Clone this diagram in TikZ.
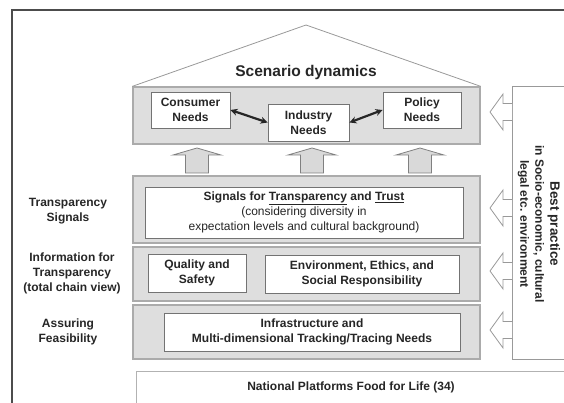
\documentclass[tikz,border=0pt]{standalone}
\usepackage{fontspec}
\setmainfont{Liberation Sans}
\usetikzlibrary{arrows.meta}
\begin{document}
\begin{tikzpicture}[x=1pt,y=-1pt,
                every node/.style={font=\fontsize{12}{15}\selectfont\bfseries,
                text=black!85,align=center},
                layer/.style={rectangle,draw=black!33,fill=black!13,line width=1.3pt,
                inner sep=0pt,minimum width=347pt},
                needbox/.style={rectangle,draw=black!55,fill=white,line width=0.9pt,
                inner sep=0pt},
                hollow/.style={draw=black!40,fill=white,line width=0.8pt},
                uparrow/.style={draw=black!50,fill=black!15,line width=0.8pt},
                twoway/.style={line width=2.2pt,draw=black!85,
                {Stealth[length=7pt,width=7pt]}-{Stealth[length=7pt,width=7pt]}}]
                \useasboundingbox (0,0) rectangle (564,403);
                \draw[black!70,line width=1.2pt] (12,403) -- (12,10) -- (564,10);
                % layers of the house
                \node (dyn) at (306.5,115.5) [layer,minimum height=57pt] {};
                \node (sig) at (306.5,209.5) [layer,minimum height=67pt] {};
                \node (inf) at (306.5,274) [layer,minimum height=54pt] {};
                \node (fea) at (306.5,332) [layer,minimum height=54pt] {};
                \draw[black!40,line width=0.8pt] (dyn.north west) -- (306,25) -- (dyn.north east);
                \node (scen) at (306,72) [font=\fontsize{15.5}{18}\selectfont\bfseries] {Scenario dynamics};
                % needs
                \node (cons) at (190.5,110) [needbox,minimum width=79pt,minimum height=36pt] {Consumer\\Needs};
                \node (ind) at (308.5,122.5) [needbox,minimum width=81pt,minimum height=37pt] {Industry\\Needs};
                \node (pol) at (422,110) [needbox,minimum width=78pt,minimum height=36pt] {Policy\\Needs};
                \draw (cons.east) edge[twoway] (ind.west);
                \draw (ind.east) edge[twoway] (pol.west);
                % up arrows
                \draw[uparrow] (185.5,173) -- (185.5,155) -- (173,155) -- (197,148) -- (221,155) -- (208.5,155) -- (208.5,173) -- cycle;
                \draw[uparrow] (300.5,173) -- (300.5,155) -- (288,155) -- (312,148) -- (336,155) -- (323.5,155) -- (323.5,173) -- cycle;
                \draw[uparrow] (408.5,173) -- (408.5,155) -- (396,155) -- (420,148) -- (444,155) -- (431.5,155) -- (431.5,173) -- cycle;
                % inner boxes
                \node (sigtxt) at (304,212.5) [needbox,minimum width=318pt,minimum height=51pt]
                    {Signals for \underline{Transparency} and \underline{Trust}\\
                    {\mdseries (considering diversity in}\\
                    {\mdseries expectation levels and cultural background)}};
                \node (qual) at (197,273) [needbox,minimum width=98pt,minimum height=38pt] {Quality and\\Safety};
                \node (env) at (362,274) [needbox,minimum width=194pt,minimum height=38pt] {Environment, Ethics, and\\Social Responsibility};
                \node (infra) at (312,332) [needbox,minimum width=296pt,minimum height=38pt] {Infrastructure and\\Multi-dimensional Tracking/Tracing Needs};
                % labels on the left
                \node (trlab) at (68,211) {Transparency\\Signals};
                \node (inlab) at (72,273) {Information for\\Transparency\\(total chain view)};
                \node (falab) at (68,332) {Assuring\\Feasibility};
                % base
                \node (nat) at (351,387) [rectangle,draw=black!30,fill=white,line width=1pt,
                    minimum width=430pt,minimum height=32pt] {National Platforms Food for Life (34)};
                % best practice column
                \node (best) at (543,223) [rectangle,draw=black!40,fill=white,line width=1pt,
                    minimum width=62pt,minimum height=272pt] {};
                \node (bptxt) at (539,224) [rotate=-90]
                    {{\fontsize{13.5}{16}\selectfont Best practice}\\
                    in Socio-economic, cultural\\legal etc. environment};
                \draw[hollow] (512,103.5) -- (503,103.5) -- (503,94) -- (490,112) -- (503,130) -- (503,120.5) -- (512,120.5);
                \draw[hollow] (512,199.5) -- (503,199.5) -- (503,190) -- (490,208) -- (503,226) -- (503,216.5) -- (512,216.5);
                \draw[hollow] (512,262.5) -- (503,262.5) -- (503,253) -- (490,271) -- (503,289) -- (503,279.5) -- (512,279.5);
                \draw[hollow] (512,321.5) -- (503,321.5) -- (503,312) -- (490,330) -- (503,348) -- (503,338.5) -- (512,338.5);
            \end{tikzpicture}
\end{document}
